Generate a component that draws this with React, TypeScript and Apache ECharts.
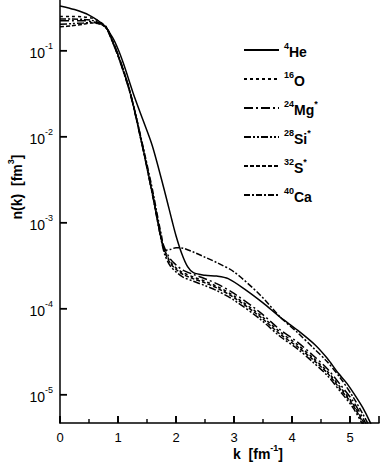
import React, { useEffect, useRef } from 'react';
import * as echarts from 'echarts';

const FONT = '"Liberation Sans", Arial, Helvetica, sans-serif';

// k grid for 4He
const kHe = [0, 0.25, 0.5, 0.75, 0.9, 1.0, 1.1, 1.26, 1.4, 1.59, 1.81, 1.93, 2.0, 2.1, 2.2, 2.3, 2.5, 2.7, 2.9, 3.2, 3.5, 3.8, 4.1, 4.4, 4.6, 4.8, 4.95, 5.1, 5.22, 5.34, 5.45];
const nHe = [0.333, 0.302, 0.26, 0.2, 0.145, 0.105, 0.0692, 0.0324, 0.0178, 0.00794, 0.00224, 0.00107, 7.08e-4, 4.37e-4, 3.09e-4, 2.63e-4, 2.45e-4, 2.4e-4, 2.24e-4, 1.66e-4, 1.17e-4, 7.94e-5, 5.62e-5, 3.8e-5, 2.69e-5, 1.78e-5, 1.35e-5, 9.55e-6, 7.08e-6, 4.9e-6, 3.31e-6];

// k grid for heavier nuclei
const kHeavy = [0, 0.2, 0.4, 0.55, 0.7, 0.8, 0.9, 1.03, 1.21, 1.41, 1.59, 1.69, 1.75, 1.81, 1.9, 2.0, 2.12, 2.3, 2.5, 2.71, 3.0, 3.45, 3.79, 4.1, 4.36, 4.6, 4.83, 5.05, 5.22, 5.4];
const nO = [0.251, 0.251, 0.248, 0.24, 0.216, 0.186, 0.132, 0.0785, 0.0324, 0.0085, 0.00224, 1.0e-3, 6.3e-4, 4.7e-4, 3.55e-4, 3.0e-4, 2.63e-4, 2.34e-4, 2.09e-4, 1.82e-4, 1.41e-4, 8.5e-5, 5.4e-5, 3.8e-5, 2.7e-5, 1.9e-5, 1.23e-5, 7.9e-6, 5.0e-6, 3.0e-6];
const nMg = [0.224, 0.224, 0.224, 0.219, 0.207, 0.19, 0.135, 0.08, 0.033, 0.0087, 0.0023, 1.03e-3, 6.5e-4, 5.0e-4, 3.8e-4, 3.24e-4, 2.82e-4, 2.51e-4, 2.24e-4, 1.95e-4, 1.51e-4, 9.1e-5, 5.75e-5, 4.07e-5, 2.88e-5, 2.04e-5, 1.32e-5, 8.5e-6, 5.4e-6, 3.2e-6];
const nSi = [0.204, 0.207, 0.211, 0.214, 0.204, 0.182, 0.129, 0.0767, 0.0317, 0.0083, 0.00219, 9.8e-4, 6.1e-4, 4.2e-4, 3.16e-4, 2.69e-4, 2.34e-4, 2.09e-4, 1.86e-4, 1.62e-4, 1.26e-4, 7.6e-5, 4.8e-5, 3.4e-5, 2.4e-5, 1.7e-5, 1.1e-5, 7.1e-6, 4.5e-6, 2.7e-6];
const nS = [0.19, 0.195, 0.204, 0.211, 0.204, 0.186, 0.13, 0.077, 0.032, 0.0084, 0.0022, 9.8e-4, 6.2e-4, 4.5e-4, 3.4e-4, 2.88e-4, 2.51e-4, 2.24e-4, 2.0e-4, 1.74e-4, 1.35e-4, 8.1e-5, 5.1e-5, 3.6e-5, 2.57e-5, 1.82e-5, 1.17e-5, 7.6e-6, 4.8e-6, 2.9e-6];
const nCa = [0.234, 0.234, 0.232, 0.226, 0.209, 0.186, 0.132, 0.0794, 0.0331, 0.0089, 0.00251, 1.12e-3, 7.1e-4, 4.8e-4, 4.9e-4, 5.13e-4, 5.07e-4, 4.57e-4, 3.98e-4, 3.43e-4, 2.69e-4, 1.45e-4, 8.1e-5, 5.25e-5, 3.55e-5, 2.45e-5, 1.58e-5, 9.5e-6, 6.0e-6, 3.55e-6];

const seriesNames = ['4He', '16O', '24Mg*', '28Si*', '32S*', '40Ca'];
const xTicks = [0, 1, 2, 3, 4, 5];
const xMinorTicks = [0.5, 1.5, 2.5, 3.5, 4.5];
const yTicks = [1e-5, 1e-4, 1e-3, 1e-2, 1e-1];
const X_MIN = 0;
const X_MAX = 5.5;
const Y_MIN = 4.7e-6;
const Y_MAX = 0.39;

const dashes: any[] = ['solid', [3, 3], [9, 3, 2, 3], [7, 2, 2, 2, 2, 2], [4, 2], [6, 2, 2, 2]];

function pairs(ks: number[], ns: number[]) {
  return ks.map((k, i) => [k, ns[i]]);
}

function isDecade(v: number) {
  const l = Math.log10(v);
  return Math.abs(l - Math.round(l)) < 1e-6;
}

function tickSeries(name: string, points: number[][], size: number[], offset: number[]) {
  return {
    name,
    type: 'scatter',
    data: points,
    symbol: 'rect',
    symbolSize: size,
    symbolOffset: offset,
    clip: false,
    silent: true,
    itemStyle: { color: '#000', opacity: 1 },
    z: 10,
  };
}

export default function App() {
  const ref = useRef<HTMLDivElement>(null);
  useEffect(() => {
    const chart = echarts.init(ref.current as HTMLDivElement, null, { renderer: 'svg' });
    const labelRich = {
      b: { fontFamily: FONT, fontSize: 14, color: '#000', lineHeight: 18, verticalAlign: 'bottom' },
      s: { fontFamily: FONT, fontSize: 9, color: '#000', lineHeight: 10, verticalAlign: 'top' },
    };
    const boldRich = {
      b: { fontFamily: FONT, fontSize: 14, fontWeight: 'bold', color: '#000', lineHeight: 18, verticalAlign: 'bottom' },
      s: { fontFamily: FONT, fontSize: 9, fontWeight: 'bold', color: '#000', lineHeight: 10, verticalAlign: 'top' },
    };
    const data = [
      pairs(kHe, nHe),
      pairs(kHeavy, nO),
      pairs(kHeavy, nMg),
      pairs(kHeavy, nSi),
      pairs(kHeavy, nS),
      pairs(kHeavy, nCa),
    ];
    const option: any = {
      animation: false,
      backgroundColor: '#fff',
      grid: { left: 60, right: 2, top: 0, bottom: 39, containLabel: false },
      legend: {
        orient: 'vertical',
        left: 238,
        top: 36,
        itemWidth: 35,
        itemHeight: 14,
        itemGap: 11,
        data: seriesNames,
        itemStyle: { opacity: 0, borderWidth: 0 },
        formatter: (name: string) => {
          const m = name.match(/^(\d+)([A-Za-z]+)(\*?)$/);
          if (!m) return name;
          return `{s|${m[1]}}{b|${m[2]}}` + (m[3] ? `{s|*}` : '');
        },
        textStyle: { rich: boldRich },
      },
      xAxis: {
        type: 'value',
        min: X_MIN,
        max: X_MAX,
        interval: 1,
        axisLine: { show: true, onZero: false, lineStyle: { color: '#000', width: 1.5 } },
        axisTick: { show: true, inside: true, length: 7, lineStyle: { color: '#000', width: 1.6 } },
        minorTick: { show: false },
        axisLabel: {
          margin: 8,
          fontFamily: FONT,
          fontSize: 13,
          color: '#000',
          formatter: (v: number) => (Number.isInteger(v) ? String(v) : ''),
        },
        splitLine: { show: false },
      },
      yAxis: {
        type: 'log',
        logBase: 10,
        min: Y_MIN,
        max: Y_MAX,
        axisLine: { show: true, onZero: false, lineStyle: { color: '#000', width: 1.5 } },
        axisTick: { show: false },
        axisLabel: {
          margin: 7,
          formatter: (v: number) => {
            if (!isDecade(v)) return '';
            const e = Math.round(Math.log10(v));
            return `{b|10}{s|${e}}`;
          },
          rich: labelRich,
        },
        splitLine: { show: false },
        minorTick: { show: false },
      },
      graphic: [
        {
          type: 'text',
          x: 258,
          y: 452,
          style: { text: '{b|k  [fm}{s|-1}{b|]}', rich: boldRich, align: 'center', verticalAlign: 'middle' },
        },
        {
          type: 'text',
          x: 15,
          y: 187,
          rotation: Math.PI / 2,
          style: { text: '{b|n(k)  [fm}{s|3}{b|]}', rich: boldRich, align: 'center', verticalAlign: 'middle' },
        },
      ],
      series: [
        ...seriesNames.map((name, i) => ({
          name,
          type: 'line',
          data: data[i],
          symbol: 'none',
          showSymbol: false,
          smooth: 0.3,
          clip: true,
          lineStyle: { color: '#000', width: 1.5, type: dashes[i] },
          itemStyle: { color: '#000' },
        })),
        tickSeries('xMajorTicks', xTicks.map((k) => [k, Y_MIN]), [1.8, 7], [0, -3.5]),
        tickSeries('xMinorTicks', xMinorTicks.map((k) => [k, Y_MIN]), [1.4, 4], [0, -2]),
        tickSeries('yMajorTicks', yTicks.map((v) => [X_MIN, v]), [7, 1.8], [3.5, 0]),
      ],
    };
    chart.setOption(option);
    return () => chart.dispose();
  }, []);
  return <div ref={ref} style={{ position: 'absolute', left: 0, top: 0, width: 382, height: 462 }} />;
}
